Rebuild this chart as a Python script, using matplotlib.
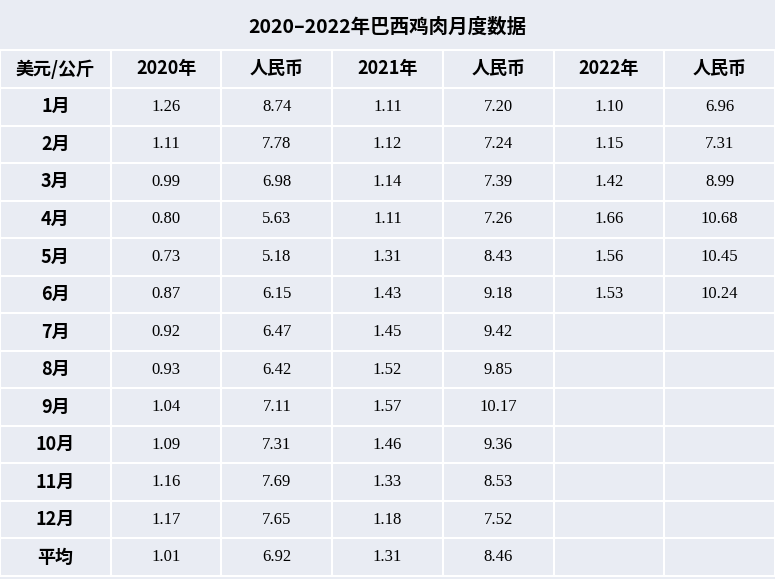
import matplotlib
matplotlib.use("Agg")
import matplotlib.pyplot as plt
from matplotlib import font_manager
from matplotlib.patches import Rectangle

title = "2020–2022年巴西鸡肉月度数据"
headers = ["美元/公斤", "2020年", "人民币", "2021年", "人民币", "2022年", "人民币"]
months = ["1月", "2月", "3月", "4月", "5月", "6月", "7月", "8月", "9月",
          "10月", "11月", "12月", "平均"]
usd_2020 = ["1.26", "1.11", "0.99", "0.80", "0.73", "0.87", "0.92", "0.93",
            "1.04", "1.09", "1.16", "1.17", "1.01"]
cny_2020 = ["8.74", "7.78", "6.98", "5.63", "5.18", "6.15", "6.47", "6.42",
            "7.11", "7.31", "7.69", "7.65", "6.92"]
usd_2021 = ["1.11", "1.12", "1.14", "1.11", "1.31", "1.43", "1.45", "1.52",
            "1.57", "1.46", "1.33", "1.18", "1.31"]
cny_2021 = ["7.20", "7.24", "7.39", "7.26", "8.43", "9.18", "9.42", "9.85",
            "10.17", "9.36", "8.53", "7.52", "8.46"]
usd_2022 = ["1.10", "1.15", "1.42", "1.66", "1.56", "1.53"]
cny_2022 = ["6.96", "7.31", "8.99", "10.68", "10.45", "10.24"]

# pick whatever CJK family is really registered
names = sorted({f.name for f in font_manager.fontManager.ttflist if "CJK" in f.name})
cjk = next((n for n in names if "SC" in n), names[0] if names else "DejaVu Sans")
cjk_fam = [cjk, "DejaVu Sans"]

W, H = 775, 579
fig = plt.figure(figsize=(W / 100, H / 100), dpi=100)
ax = fig.add_axes([0, 0, 1, 1])
ax.set_xlim(0, W)
ax.set_ylim(H, 0)
ax.axis("off")

bg = "#e9ecf3"
line = "white"
ncol = 7
cw = W / ncol
title_h = 50
head_h = 38
row_h = (H - title_h - head_h - 3) / len(months)

ax.add_patch(Rectangle((0, 0), W, H, facecolor=bg, edgecolor="none"))
ax.text(W / 2, title_h / 2 + 2, title, ha="center", va="center",
        fontsize=14, fontweight="bold", family=cjk_fam)

# header row
y0 = title_h
for j, h in enumerate(headers):
    ax.add_patch(Rectangle((j * cw, y0), cw, head_h, facecolor=bg,
                           edgecolor=line, lw=1.5))
    ax.text((j + 0.5) * cw, y0 + head_h / 2, h, ha="center", va="center",
            fontsize=13, fontweight="bold", family=cjk_fam)

cols = [usd_2020, cny_2020, usd_2021, cny_2021, usd_2022, cny_2022]
for i, m in enumerate(months):
    y = title_h + head_h + i * row_h
    for j in range(ncol):
        ax.add_patch(Rectangle((j * cw, y), cw, row_h, facecolor=bg,
                               edgecolor=line, lw=1.5))
    ax.text(0.5 * cw, y + row_h / 2, m, ha="center", va="center",
            fontsize=13, fontweight="bold", family=cjk_fam)
    for j, col in enumerate(cols):
        if i < len(col):
            ax.text((j + 1.5) * cw, y + row_h / 2, col[i], ha="center",
                    va="center", fontsize=12, family="Liberation Serif")

fig.savefig("out.png", dpi=100)
